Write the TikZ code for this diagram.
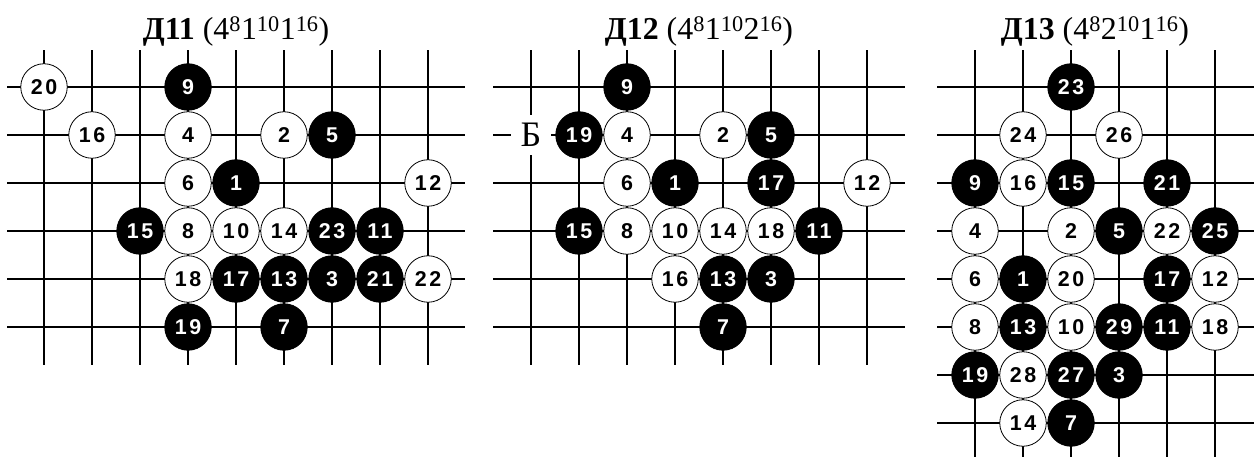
\documentclass[tikz,border=0pt]{standalone}
\usepackage{fontspec}
\setmainfont{Liberation Serif}
\newfontfamily\stonefont[LetterSpace=12]{Liberation Sans}
\begin{document}
\begin{tikzpicture}[x=1bp,y=-1bp,
  gridline/.style={line width=1.4bp,black},
  stone/.style={circle,minimum size=46.5bp,inner sep=0pt,line width=0.8bp,
    font=\stonefont\bfseries\fontsize{21.5}{21.5}\selectfont},
  wst/.style={stone,draw=black,fill=white,text=black},
  bst/.style={stone,draw=black,fill=black,text=white},
  title/.style={anchor=base,font=\fontsize{32}{36}\selectfont,inner sep=0pt},
  lbl/.style={fill=white,minimum size=40bp,inner sep=0pt,font=\fontsize{36}{36}\selectfont}]
\useasboundingbox (0,0) rectangle (1254,457);
\fill[white] (0,0) rectangle (1254,457);
% titles
\node[title] (t11) at (236,40) {\textbf{Д11} (4\textsuperscript{8}1\textsuperscript{10}1\textsuperscript{16})};
\node[title] (t12) at (699,40) {\textbf{Д12} (4\textsuperscript{8}1\textsuperscript{10}2\textsuperscript{16})};
\node[title] (t13) at (1095,40) {\textbf{Д13} (4\textsuperscript{8}2\textsuperscript{10}1\textsuperscript{16})};
% ---------- Д11 ----------
\begin{scope}[shift={(44,87)},x=48bp,y=-48bp]
  \foreach \r in {0,...,5} \draw[gridline] (-0.77,\r) -- (8.77,\r);
  \foreach \c in {0,...,8} \draw[gridline] (\c,-0.77) -- (\c,5.79);
  \node[wst] (a20) at (0,0) {20};
  \node[bst] (a9) at (3,0) {9};
  \node[wst] (a16) at (1,1) {16};
  \node[wst] (a4) at (3,1) {4};
  \node[wst] (a2) at (5,1) {2};
  \node[bst] (a5) at (6,1) {5};
  \node[wst] (a6) at (3,2) {6};
  \node[bst] (a1) at (4,2) {1};
  \node[wst] (a12) at (8,2) {12};
  \node[bst] (a15) at (2,3) {15};
  \node[wst] (a8) at (3,3) {8};
  \node[wst] (a10) at (4,3) {10};
  \node[wst] (a14) at (5,3) {14};
  \node[bst] (a23) at (6,3) {23};
  \node[bst] (a11) at (7,3) {11};
  \node[wst] (a18) at (3,4) {18};
  \node[bst] (a17) at (4,4) {17};
  \node[bst] (a13) at (5,4) {13};
  \node[bst] (a3) at (6,4) {3};
  \node[bst] (a21) at (7,4) {21};
  \node[wst] (a22) at (8,4) {22};
  \node[bst] (a19) at (3,5) {19};
  \node[bst] (a7) at (5,5) {7};
\end{scope}
% ---------- Д12 ----------
\begin{scope}[shift={(531,87)},x=48bp,y=-48bp]
  \foreach \r in {0,...,5} \draw[gridline] (-0.79,\r) -- (7.79,\r);
  \foreach \c in {0,...,7} \draw[gridline] (\c,-0.77) -- (\c,5.79);
  \node[lbl] (bB) at (0,1) {Б};
  \node[bst] (b9) at (2,0) {9};
  \node[bst] (b19) at (1,1) {19};
  \node[wst] (b4) at (2,1) {4};
  \node[wst] (b2) at (4,1) {2};
  \node[bst] (b5) at (5,1) {5};
  \node[wst] (b6) at (2,2) {6};
  \node[bst] (b1) at (3,2) {1};
  \node[bst] (b17) at (5,2) {17};
  \node[wst] (b12) at (7,2) {12};
  \node[bst] (b15) at (1,3) {15};
  \node[wst] (b8) at (2,3) {8};
  \node[wst] (b10) at (3,3) {10};
  \node[wst] (b14) at (4,3) {14};
  \node[wst] (b18) at (5,3) {18};
  \node[bst] (b11) at (6,3) {11};
  \node[wst] (b16) at (3,4) {16};
  \node[bst] (b13) at (4,4) {13};
  \node[bst] (b3) at (5,4) {3};
  \node[bst] (b7) at (4,5) {7};
\end{scope}
% ---------- Д13 ----------
\begin{scope}[shift={(975,87)},x=48bp,y=-48bp]
  \foreach \r in {0,...,7} \draw[gridline] (-0.79,\r) -- (5.9,\r);
  \foreach \c in {0,...,5} \draw[gridline] (\c,-0.77) -- (\c,7.8);
  \node[bst] (c23) at (2,0) {23};
  \node[wst] (c24) at (1,1) {24};
  \node[wst] (c26) at (3,1) {26};
  \node[bst] (c9) at (0,2) {9};
  \node[wst] (c16) at (1,2) {16};
  \node[bst] (c15) at (2,2) {15};
  \node[bst] (c21) at (4,2) {21};
  \node[wst] (c4) at (0,3) {4};
  \node[wst] (c2) at (2,3) {2};
  \node[bst] (c5) at (3,3) {5};
  \node[wst] (c22) at (4,3) {22};
  \node[bst] (c25) at (5,3) {25};
  \node[wst] (c6) at (0,4) {6};
  \node[bst] (c1) at (1,4) {1};
  \node[wst] (c20) at (2,4) {20};
  \node[bst] (c17) at (4,4) {17};
  \node[wst] (c12) at (5,4) {12};
  \node[wst] (c8) at (0,5) {8};
  \node[bst] (c13) at (1,5) {13};
  \node[wst] (c10) at (2,5) {10};
  \node[bst] (c29) at (3,5) {29};
  \node[bst] (c11) at (4,5) {11};
  \node[wst] (c18) at (5,5) {18};
  \node[bst] (c19) at (0,6) {19};
  \node[wst] (c28) at (1,6) {28};
  \node[bst] (c27) at (2,6) {27};
  \node[bst] (c3) at (3,6) {3};
  \node[wst] (c14) at (1,7) {14};
  \node[bst] (c7) at (2,7) {7};
\end{scope}
\end{tikzpicture}
\end{document}
